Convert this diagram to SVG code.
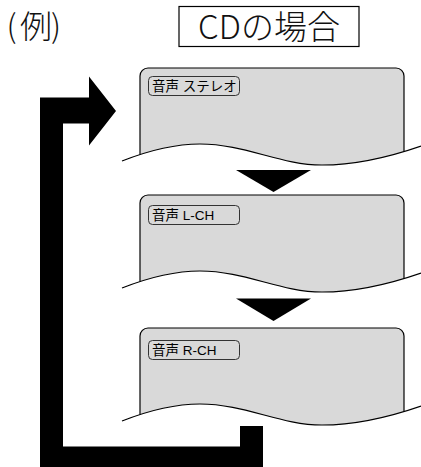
<svg xmlns="http://www.w3.org/2000/svg" width="421" height="467" viewBox="0 0 421 467">
<style>
.panel{fill:#d9d9d9;stroke:#000;stroke-width:1.2}
.wave{fill:none;stroke:#000;stroke-width:1.2}
.lbl{fill:#d9d9d9;stroke:#333;stroke-width:1}
.lt{font-family:"Liberation Sans","Noto Sans CJK JP",sans-serif;font-size:13.5px;fill:#000}
.big{font-family:"Noto Sans CJK JP",sans-serif;font-weight:300;fill:#111}
.blk{fill:#000}
</style>
<defs>
<clipPath id="above">
<path d="M0,0 H421 V146 C395,155 360,165 322,165 C280,165 245,144 200,144 C175,144 150,150 122,161 L0,161 Z"/>
</clipPath>
</defs>
<rect width="421" height="467" fill="#fff"/>
<g id="example">
<text class="big" x="6.5 20 51" y="38" font-size="32">(例)</text>
</g>
<g id="title">
<rect x="179" y="6.5" width="180" height="40" fill="#fff" stroke="#000" stroke-width="1.2"/>
<text class="big" x="269" y="39" font-size="33" text-anchor="middle">CDの場合</text>
</g>
<g id="panel-stereo">
<rect class="panel" x="140" y="68" width="264" height="120" rx="8" clip-path="url(#above)"/>
<path class="wave" d="M122,161 C150,150 175,144 200,144 C245,144 280,165 322,165 C360,165 395,155 421,146"/>
<rect class="lbl" x="148.5" y="76.5" width="91" height="19" rx="4"/>
<text class="lt" x="152" y="91">音声 ステレオ</text>
</g>
<g id="panel-lch" transform="translate(0,127)">
<rect class="panel" x="140" y="68" width="264" height="120" rx="8" clip-path="url(#above)"/>
<path class="wave" d="M122,161 C150,150 175,144 200,144 C245,144 280,165 322,165 C360,165 395,155 421,146"/>
<rect class="lbl" x="148.5" y="78.5" width="91" height="19" rx="4"/>
<text class="lt" x="152" y="93">音声 L-CH</text>
</g>
<g id="panel-rch" transform="translate(0,260)">
<rect class="panel" x="140" y="68" width="264" height="120" rx="8" clip-path="url(#above)"/>
<path class="wave" d="M122,161 C150,150 175,144 200,144 C245,144 280,165 322,165 C360,165 395,155 421,146"/>
<rect class="lbl" x="148.5" y="80.5" width="91" height="19" rx="4"/>
<text class="lt" x="152" y="95">音声 R-CH</text>
</g>
<g id="connectors">
<polygon class="blk" points="236,170 311,170 273.5,192"/>
<polygon class="blk" points="236,298.5 311,298.5 273.5,321"/>
<polygon class="blk" points="40,470 40,97.5 89,97.5 89,76.5 116,111 89,145.5 89,123.5 63,123.5 63,446.5 240,446.5 240,426 263,426 263,470"/>
</g>
</svg>
